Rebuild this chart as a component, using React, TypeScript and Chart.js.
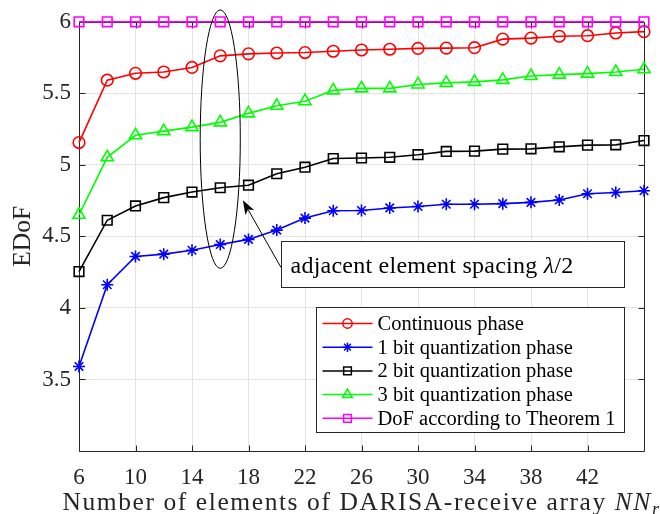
import React, { useEffect, useRef } from 'react';
import { Chart, registerables } from 'chart.js';

Chart.register(...registerables);

// ---------------- data ----------------
const elements = [6, 8, 10, 12, 14, 16, 18, 20, 22, 24, 26, 28, 30, 32, 34, 36, 38, 40, 42, 44, 46];
const continuousPhase = [5.156, 5.592, 5.640, 5.649, 5.681, 5.762, 5.776, 5.782, 5.785, 5.794, 5.803, 5.808, 5.814, 5.816, 5.819, 5.879, 5.886, 5.899, 5.903, 5.922, 5.931];
const oneBitPhase = [3.591, 4.162, 4.360, 4.376, 4.403, 4.443, 4.479, 4.544, 4.628, 4.679, 4.681, 4.699, 4.709, 4.725, 4.725, 4.729, 4.738, 4.754, 4.798, 4.807, 4.819];
const twoBitPhase = [4.254, 4.613, 4.713, 4.771, 4.810, 4.840, 4.858, 4.938, 4.984, 5.044, 5.048, 5.053, 5.071, 5.094, 5.096, 5.110, 5.112, 5.126, 5.138, 5.140, 5.170];
const threeBitPhase = [4.651, 5.053, 5.207, 5.236, 5.264, 5.297, 5.360, 5.413, 5.445, 5.521, 5.535, 5.535, 5.562, 5.573, 5.580, 5.594, 5.621, 5.631, 5.638, 5.649, 5.668];
const theoremDoF = [6, 6, 6, 6, 6, 6, 6, 6, 6, 6, 6, 6, 6, 6, 6, 6, 6, 6, 6, 6, 6];

const seriesLabels = [
  'Continuous phase',
  '1 bit quantization phase',
  '2 bit quantization phase',
  '3 bit quantization phase',
  'DoF according to Theorem 1',
];
const xTicks = [6, 10, 14, 18, 22, 26, 30, 34, 38, 42];
const yTicks = [3.5, 4, 4.5, 5, 5.5, 6];
const xRange = [6, 46];
const yRange = [3, 6];
const yTitle = 'EDoF';
const xTitleMain = 'Number of elements of DARISA-receive array ';
const xTitleItalic = 'NN';
const xTitleSub = 'r';
const annotationText = ['adjacent element spacing ', 'λ', '/2'];

// annotation geometry in data units
const ellipseAnno = { cx: 16, cy: 5.18, rx: 1.42, ry: 0.903 };
const arrowAnno = { tipX: 17.6, tipY: 4.752, tailX: 20.3, tailY: 4.283 };
const boxAnno = { x0: 20.3, x1: 44.58, y0: 4.469, y1: 4.145 };

// ---------------- styles ----------------
const FONT = '"Liberation Serif", "Times New Roman", serif';
const AXIS_COLOR = '#262626';
const GRID_COLOR = '#e3e3e3';
const seriesStyles = [
  { color: '#ff0000', marker: 'circle', r: 5.8 },
  { color: '#0000ff', marker: 'star', r: 6 },
  { color: '#000000', marker: 'rect', r: 6.8 },
  { color: '#00ff00', marker: 'triangle', r: 7 },
  { color: '#ff00ff', marker: 'rect', r: 6.8 },
];
const seriesData = [continuousPhase, oneBitPhase, twoBitPhase, threeBitPhase, theoremDoF];

function drawMarker(ctx: CanvasRenderingContext2D, style: string, x: number, y: number, r: number) {
  ctx.beginPath();
  if (style === 'circle') {
    ctx.arc(x, y, r, 0, Math.PI * 2);
  } else if (style === 'rect') {
    const s = Math.SQRT1_2 * r;
    ctx.rect(x - s, y - s, 2 * s, 2 * s);
  } else if (style === 'triangle') {
    let rad = 0;
    ctx.moveTo(x + Math.sin(rad) * r, y - Math.cos(rad) * r);
    rad += (2 * Math.PI) / 3;
    ctx.lineTo(x + Math.sin(rad) * r, y - Math.cos(rad) * r);
    rad += (2 * Math.PI) / 3;
    ctx.lineTo(x + Math.sin(rad) * r, y - Math.cos(rad) * r);
    ctx.closePath();
  } else if (style === 'star') {
    ctx.moveTo(x - r, y);
    ctx.lineTo(x + r, y);
    ctx.moveTo(x, y - r);
    ctx.lineTo(x, y + r);
    const d = r * Math.SQRT1_2;
    ctx.moveTo(x - d, y - d);
    ctx.lineTo(x + d, y + d);
    ctx.moveTo(x - d, y + d);
    ctx.lineTo(x + d, y - d);
  }
  ctx.stroke();
}

type Run = { text: string; font: string; dy?: number };

// draws runs of text starting at x, stretched with letter spacing to a target width
function drawRuns(ctx: any, runs: Run[], x: number, y: number, targetWidth: number) {
  ctx.letterSpacing = '0px';
  let natural = 0;
  let chars = 0;
  runs.forEach((r) => {
    ctx.font = r.font;
    natural += ctx.measureText(r.text).width;
    chars += r.text.length;
  });
  const ls = chars > 0 ? (targetWidth - natural) / chars : 0;
  ctx.letterSpacing = `${ls.toFixed(2)}px`;
  let cx = x;
  runs.forEach((r) => {
    ctx.font = r.font;
    ctx.fillText(r.text, cx, y + (r.dy || 0));
    cx += ctx.measureText(r.text).width;
  });
  ctx.letterSpacing = '0px';
}

const decorPlugin = {
  id: 'decor',
  beforeDatasetsDraw(chart: any) {
    const { ctx, chartArea: a, scales } = chart;
    const L = Math.round(a.left) + 0.5;
    const R = Math.round(a.right) + 0.5;
    const T = Math.round(a.top) + 0.5;
    const B = Math.round(a.bottom) + 0.5;
    ctx.save();
    ctx.strokeStyle = AXIS_COLOR;
    ctx.lineWidth = 1;
    ctx.beginPath();
    ctx.rect(L, T, R - L, B - T);
    ctx.stroke();
    const tl = 6;
    ctx.beginPath();
    xTicks.forEach((v) => {
      const x = Math.round(scales.x.getPixelForValue(v)) + 0.5;
      ctx.moveTo(x, B);
      ctx.lineTo(x, B - tl);
      ctx.moveTo(x, T);
      ctx.lineTo(x, T + tl);
    });
    yTicks.forEach((v) => {
      const y = Math.round(scales.y.getPixelForValue(v)) + 0.5;
      ctx.moveTo(L, y);
      ctx.lineTo(L + tl, y);
      ctx.moveTo(R, y);
      ctx.lineTo(R - tl, y);
    });
    ctx.stroke();
    ctx.restore();
  },
  afterDraw(chart: any) {
    const { ctx, chartArea: a, scales } = chart;
    const px = (v: number) => scales.x.getPixelForValue(v);
    const py = (v: number) => scales.y.getPixelForValue(v);
    ctx.save();

    // ---- ellipse ----
    ctx.strokeStyle = '#000';
    ctx.lineWidth = 1;
    const ecx = px(ellipseAnno.cx);
    const ecy = py(ellipseAnno.cy);
    const erx = Math.abs(px(ellipseAnno.cx + ellipseAnno.rx) - ecx);
    const ery = Math.abs(py(ellipseAnno.cy + ellipseAnno.ry) - ecy);
    ctx.beginPath();
    ctx.ellipse(ecx, ecy, erx, ery, 0, 0, Math.PI * 2);
    ctx.stroke();

    // ---- arrow ----
    const tx = px(arrowAnno.tipX), ty = py(arrowAnno.tipY);
    const sx = px(arrowAnno.tailX), sy = py(arrowAnno.tailY);
    const ang = Math.atan2(ty - sy, tx - sx);
    const headLen = 14, headW = 5;
    ctx.beginPath();
    ctx.moveTo(sx, sy);
    ctx.lineTo(tx - Math.cos(ang) * headLen * 0.8, ty - Math.sin(ang) * headLen * 0.8);
    ctx.stroke();
    ctx.fillStyle = '#000';
    ctx.beginPath();
    ctx.moveTo(tx, ty);
    const bx = tx - Math.cos(ang) * headLen, by = ty - Math.sin(ang) * headLen;
    ctx.lineTo(bx + Math.sin(ang) * headW, by - Math.cos(ang) * headW);
    ctx.lineTo(tx - Math.cos(ang) * headLen * 0.75, ty - Math.sin(ang) * headLen * 0.75);
    ctx.lineTo(bx - Math.sin(ang) * headW, by + Math.cos(ang) * headW);
    ctx.closePath();
    ctx.fill();

    // ---- annotation box ----
    const bx0 = Math.round(px(boxAnno.x0)) + 0.5, bx1 = Math.round(px(boxAnno.x1)) + 0.5;
    const by0 = Math.round(py(boxAnno.y0)) + 0.5, by1 = Math.round(py(boxAnno.y1)) + 0.5;
    ctx.fillStyle = '#fff';
    ctx.fillRect(bx0, by0, bx1 - bx0, by1 - by0);
    ctx.strokeStyle = '#262626';
    ctx.strokeRect(bx0, by0, bx1 - bx0, by1 - by0);
    ctx.fillStyle = '#000';
    ctx.textBaseline = 'alphabetic';
    ctx.textAlign = 'left';
    drawRuns(
      ctx,
      [
        { text: annotationText[0], font: `24px ${FONT}` },
        { text: annotationText[1], font: `italic 24px ${FONT}` },
        { text: annotationText[2], font: `24px ${FONT}` },
      ],
      bx0 + 9,
      (by0 + by1) / 2 + 8,
      283
    );

    // ---- legend ----
    const lw = 308, lh = 125;
    const lr = Math.round(a.right - 20) + 0.5;
    const lb = Math.round(a.bottom - 19) + 0.5;
    const ll = lr - lw, lt = lb - lh;
    ctx.fillStyle = '#fff';
    ctx.fillRect(ll, lt, lw, lh);
    ctx.strokeStyle = '#262626';
    ctx.lineWidth = 1;
    ctx.strokeRect(ll, lt, lw, lh);
    ctx.font = `20.5px ${FONT}`;
    ctx.textBaseline = 'middle';
    seriesLabels.forEach((label, i) => {
      const st = seriesStyles[i];
      const y = lt + 16 + i * 23.7;
      ctx.strokeStyle = st.color;
      ctx.lineWidth = 1.5;
      ctx.beginPath();
      ctx.moveTo(ll + 6, y);
      ctx.lineTo(ll + 56, y);
      ctx.stroke();
      drawMarker(ctx, st.marker, ll + 31, y, st.r * 0.8);
      ctx.fillStyle = '#000';
      ctx.fillText(label, ll + 61, y + 1);
    });

    // ---- axis titles ----
    ctx.fillStyle = AXIS_COLOR;
    ctx.textBaseline = 'alphabetic';
    ctx.textAlign = 'left';
    const xFont = 25.5;
    const titleWidth = 598;
    drawRuns(
      ctx,
      [
        { text: xTitleMain, font: `${xFont}px ${FONT}` },
        { text: xTitleItalic, font: `italic ${xFont}px ${FONT}` },
        { text: xTitleSub, font: `italic ${xFont * 0.72}px ${FONT}`, dy: 5 },
      ],
      (a.left + a.right) / 2 - titleWidth / 2,
      510,
      titleWidth
    );

    ctx.save();
    ctx.translate(29.5, (a.top + a.bottom) / 2);
    ctx.rotate(-Math.PI / 2);
    ctx.textAlign = 'center';
    ctx.font = `25.5px ${FONT}`;
    ctx.fillText(yTitle, 0, 0);
    ctx.restore();

    ctx.restore();
  },
};

export default function App() {
  const ref = useRef<HTMLCanvasElement | null>(null);
  useEffect(() => {
    if (!ref.current) return;
    const n = seriesLabels.length;
    const chart = new Chart(ref.current, {
      type: 'line',
      data: {
        labels: elements,
        datasets: seriesLabels.map((label, i) => ({
          label,
          data: elements.map((x, j) => ({ x, y: seriesData[i][j] })),
          borderColor: seriesStyles[i].color,
          backgroundColor: 'transparent',
          borderWidth: 1.6,
          pointStyle: seriesStyles[i].marker as any,
          pointRadius: seriesStyles[i].r,
          pointBorderWidth: 1.6,
          pointBorderColor: seriesStyles[i].color,
          pointBackgroundColor: 'transparent',
          tension: 0,
          clip: false as any,
          order: n - i,
        })),
      },
      options: {
        animation: false,
        responsive: false,
        devicePixelRatio: 1,
        layout: { padding: { top: 16, right: 16, left: 0, bottom: 0 } },
        plugins: { legend: { display: false }, tooltip: { enabled: false } },
        scales: {
          x: {
            type: 'linear',
            min: xRange[0],
            max: xRange[1],
            afterBuildTicks: (s: any) => {
              s.ticks = xTicks.map((v) => ({ value: v }));
            },
            afterFit: (s: any) => {
              s.height = 63;
            },
            grid: { color: GRID_COLOR, drawTicks: false, lineWidth: 1 },
            border: { display: false },
            ticks: {
              color: AXIS_COLOR,
              font: { family: FONT, size: 23 },
              padding: 13,
              maxRotation: 0,
              autoSkip: false,
            },
          },
          y: {
            type: 'linear',
            min: yRange[0],
            max: yRange[1],
            afterBuildTicks: (s: any) => {
              s.ticks = yTicks.map((v) => ({ value: v }));
            },
            afterFit: (s: any) => {
              s.width = 79;
            },
            grid: { color: GRID_COLOR, drawTicks: false, lineWidth: 1 },
            border: { display: false },
            ticks: {
              color: AXIS_COLOR,
              font: { family: FONT, size: 23 },
              padding: 8,
              autoSkip: false,
              callback: (v: any) => String(v),
            },
          },
        },
      },
      plugins: [decorPlugin],
    });
    return () => chart.destroy();
  }, []);
  return (
    <div style={{ position: 'absolute', left: 0, top: 0, width: 660, height: 514, background: '#fff' }}>
      <canvas ref={ref} width={660} height={514} style={{ width: 660, height: 514, display: 'block' }} />
    </div>
  );
}
